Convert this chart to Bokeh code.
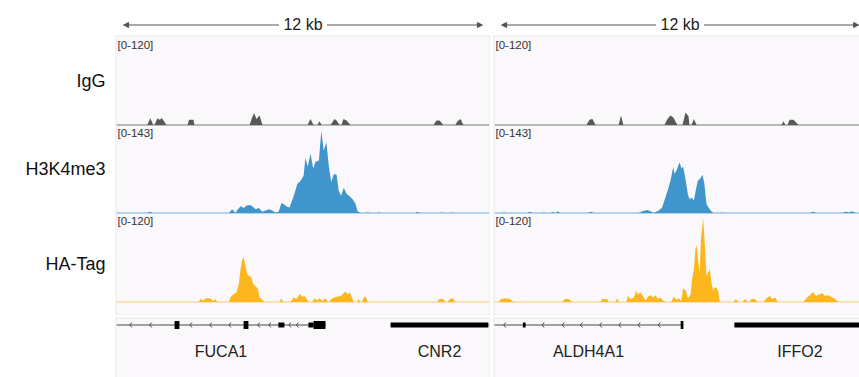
from bokeh.plotting import figure
from bokeh.layouts import row, column
from bokeh.models import Range1d, Spacer, Arrow, NormalHead
from bokeh.embed import file_html
from bokeh.resources import INLINE
from bokeh.core.properties import value

FONT = "Liberation Sans"

# ---------------- data (positions in kb from the left edge of each view) ----------------
track_names = ["IgG", "H3K4me3", "HA-Tag"]
track_max = [120, 143, 120]
range_labels = ["[0-120]", "[0-143]", "[0-120]"]
scale_label = "12 kb"
scale_start = [0.27, 0.27]
scale_end = [12.23, 12.17]

# IgG, left view
igg_L_kb = [1.06, 1.16, 1.26, 1.30, 1.40, 1.47, 1.55, 1.70, 2.40, 2.45, 2.60, 2.63,
            4.47, 4.55, 4.62, 4.70, 4.80, 4.90, 6.40, 6.50, 6.60, 6.73, 6.80, 6.87,
            7.17, 7.30, 7.37, 7.47, 7.53, 7.60, 7.70, 7.83, 10.60, 10.70, 10.80, 10.93,
            11.33, 11.40, 11.50, 11.60]
igg_L_val = [0, 9, 0, 0, 9, 7, 9, 0, 0, 7, 7, 0,
             0, 10, 16, 8, 13, 0, 0, 8, 0, 0, 5, 0,
             0, 8, 6, 0, 0, 8, 6, 0, 0, 6, 6, 0,
             0, 5, 8, 0]
# IgG, right view
igg_R_kb = [3.10, 3.20, 3.30, 3.40, 4.17, 4.25, 4.33, 5.70, 5.80, 5.90, 6.00, 6.13,
            6.30, 6.40, 6.50, 6.53, 6.60, 6.68, 6.77, 9.60, 9.67, 9.73, 9.80, 9.87, 10.00, 10.17]
igg_R_val = [0, 7, 8, 0, 0, 13, 0, 0, 8, 13, 10, 0,
             0, 17, 12, 0, 0, 8, 0, 0, 5, 0, 0, 7, 7, 0]

# H3K4me3, left view
h3_L_kb = [1.05, 1.15, 1.25,
           3.78, 3.89, 4.00, 4.06, 4.17, 4.28, 4.37, 4.48, 4.56, 4.67,
           4.78, 4.89, 5.00, 5.11, 5.22, 5.33, 5.44, 5.53, 5.61, 5.72,
           5.80, 5.83, 5.93, 6.06, 6.17, 6.27, 6.33, 6.41, 6.50, 6.59,
           6.67, 6.78, 6.86, 6.94, 7.03, 7.11, 7.19, 7.28, 7.37, 7.44,
           7.52, 7.61, 7.70, 7.78, 7.89, 8.00, 8.07, 8.17,
           8.30, 8.40, 8.50, 8.70, 8.78, 8.85, 10.00, 10.07, 10.13,
           10.80, 10.87, 10.93, 11.13, 11.20, 11.27]
h3_L_val = [0, 2, 0,
            0, 6, 0, 5, 11, 8, 12, 13, 11, 6,
            8, 2, 4, 6, 4, 1, 2, 16, 14, 10,
            9, 13, 26, 47, 52, 60, 89, 75, 96, 72,
            83, 85, 133, 101, 114, 76, 50, 63, 62, 36,
            28, 41, 31, 28, 23, 15, 3, 0,
            0, 1, 0, 0, 1, 0, 0, 2, 0,
            0, 1, 0, 0, 1, 0]
# H3K4me3, right view
h3_R_kb = [0.28, 0.36, 0.44, 1.12, 1.20, 1.30, 1.62, 1.68, 1.74, 1.92, 1.98, 2.04,
           2.08, 2.14, 2.22, 3.15, 3.25, 3.35,
           4.84, 4.96, 5.12, 5.23, 5.34, 5.51, 5.62, 5.73, 5.81, 5.90,
           5.99, 6.04, 6.12, 6.20, 6.27, 6.32, 6.40, 6.48, 6.54, 6.60,
           6.68, 6.74, 6.81, 6.90, 6.97, 7.03, 7.10, 7.18, 7.26, 7.34,
           7.55, 7.62, 7.70, 10.55, 10.65, 10.75, 11.62, 11.75, 11.85, 11.95, 12.07]
h3_R_val = [0, 1, 0, 0, 2, 0, 0, 1, 0, 0, 2, 0,
            0, 3, 0, 0, 2, 0,
            0, 3, 5, 3, 0, 4, 9, 25, 37, 52,
            74, 63, 71, 82, 72, 75, 55, 30, 22, 25,
            20, 36, 52, 56, 62, 47, 14, 8, 3, 0,
            0, 1, 0, 0, 2, 0, 0, 2, 1, 3, 0]

# HA-Tag, left view
ha_L_kb = [2.78, 2.83, 2.94, 3.00, 3.11, 3.19, 3.26, 3.33, 3.39,
           3.78, 3.83, 3.92, 4.03, 4.11, 4.17, 4.22, 4.28, 4.33, 4.39,
           4.44, 4.52, 4.59, 4.67, 4.74, 4.81, 4.89, 4.97,
           5.48, 5.52, 5.59,
           5.83, 5.94, 6.03, 6.14, 6.22, 6.30, 6.39, 6.44,
           6.56, 6.63, 6.72, 6.81, 6.89, 7.00, 7.08,
           7.12, 7.19, 7.28, 7.39, 7.50, 7.59, 7.67, 7.74, 7.81, 7.89, 7.94,
           8.06, 8.11, 8.17, 8.22, 8.26, 8.33, 8.41,
           10.72, 10.80, 10.92, 11.00, 11.07, 11.15, 11.25, 11.33]
ha_L_val = [0, 4, 2, 5, 5, 4, 1, 4, 0,
            0, 6, 10, 13, 24, 45, 56, 60, 48, 38,
            35, 34, 24, 21, 18, 6, 3, 0,
            0, 5, 0,
            0, 6, 4, 11, 7, 8, 3, 0,
            0, 5, 2, 5, 1, 5, 0,
            0, 4, 6, 7, 8, 11, 14, 10, 13, 5, 0,
            0, 4, 0, 0, 5, 8, 0,
            0, 4, 4, 0, 0, 4, 5, 0]
# HA-Tag, right view
ha_R_kb = [0.17, 0.25, 0.40, 0.55, 0.67, 2.29, 2.38, 2.50, 2.62,
           3.57, 3.62, 3.79, 3.84, 4.07, 4.12, 4.18,
           4.43, 4.48, 4.57, 4.68, 4.76, 4.81, 4.90, 4.98, 5.07, 5.14,
           5.23, 5.32, 5.40, 5.48, 5.57, 5.64, 5.73,
           5.92, 6.01, 6.10, 6.18, 6.26, 6.32, 6.40, 6.48, 6.57, 6.62,
           6.68, 6.73, 6.77, 6.81, 6.87, 6.92, 6.99, 7.04, 7.10, 7.16,
           7.21, 7.27, 7.32, 7.38, 7.43, 7.49, 7.54,
           8.00, 8.08, 8.17, 8.30, 8.38, 8.47, 8.53, 8.60, 8.70, 8.80,
           9.00, 9.10, 9.20, 9.30, 9.40, 9.47,
           10.33, 10.45, 10.55, 10.65, 10.75, 10.85, 10.95, 11.05, 11.15, 11.25, 11.35, 11.50]
ha_R_val = [0, 4, 5, 4, 0, 0, 4, 4, 0,
            0, 4, 4, 0, 0, 5, 0,
            0, 8, 4, 6, 15, 10, 13, 8, 2, 7,
            9, 6, 9, 4, 6, 2, 0,
            0, 7, 3, 5, 1, 18, 16, 5, 10, 31,
            44, 71, 76, 60, 40, 87, 112, 80, 35, 40,
            44, 25, 15, 20, 19, 15, 0,
            0, 4, 0, 0, 4, 0, 0, 4, 4, 0,
            0, 5, 8, 4, 6, 0,
            0, 6, 9, 13, 8, 10, 12, 8, 9, 7, 5, 0]

# Genes
genes_L_name = ["FUCA1", "CNR2"]
genes_L_start = [0.03, 9.17]
genes_L_end = [7.00, 12.43]
exons_L_start = [1.97, 4.27, 5.43, 6.43, 6.60, 9.17]
exons_L_end = [2.13, 4.43, 5.63, 6.60, 7.00, 12.43]
exons_L_thick = [1, 1, 0, 0, 1, 0]
chevrons_L = [0.48, 1.14, 2.48, 3.14, 3.78, 4.74, 5.11, 5.78, 6.03]

genes_R_name = ["ALDH4A1", "IFFO2"]
genes_R_start = [0.0, 8.03]
genes_R_end = [6.30, 12.40]
exons_R_start = [0.98, 6.24, 8.03]
exons_R_end = [1.07, 6.33, 12.40]
exons_R_thick = [0, 1, 0]
chevrons_R = [0.34, 1.62, 2.29, 2.90, 3.54, 4.18, 4.82, 5.49]

# ---------------- layout / style ----------------
PX_PER_KB = 30.0
W_LABEL = 115
PANEL_W = [375, 366]
PANEL_BR = [1, 0]
H_HEAD, H_TRACK, GAP_V, H_GENE = 35, 280, 2, 60
FH = H_TRACK - 2
BANDS = [(0, 88.5), (88, 176.5), (176, 265.5)]
LABEL_BANDS = [(0, 88), (88, 176), (176, 278)]
COLORS = ["#545a54", "#4096cc", "#fdb71e"]
BASE_COLORS = ["#7a7a7a", "#6eb0dc", "#fcc97c"]
BG = "#faf8fa"
BORDER = "#d4d4d4"
ARROW_C = "#555555"
GENE_LINE = "#4a4a4a"


def base_fig(w, h, xr, yr, bl, br, bt, bb, bg, bfill):
    p = figure(width=w, height=h, x_range=xr, y_range=yr,
               min_border_left=bl, min_border_right=br,
               min_border_top=bt, min_border_bottom=bb,
               toolbar_location=None, output_backend="svg",
               x_axis_location=None, y_axis_location=None,
               background_fill_color=bg, border_fill_color=bfill,
               outline_line_color=None)
    p.grid.grid_line_color = None
    return p


def make_panel(i, tracks, genes_name, genes_start, genes_end,
               ex_start, ex_end, ex_thick, chevrons):
    w, br = PANEL_W[i], PANEL_BR[i]
    fw = w - 1 - br
    x0 = 1.0 / PX_PER_KB
    x1 = x0 + fw / PX_PER_KB

    # header with scale arrow
    hd = base_fig(w, H_HEAD, Range1d(x0, x1), Range1d(H_HEAD, 0), 1, br, 0, 0, "white", "white")
    a0, a1 = scale_start[i], scale_end[i]
    mid = (a0 + a1) / 2
    gap = 0.8
    ay = 24.5
    for xs, xe in [(mid - gap, a0), (mid + gap, a1)]:
        hd.add_layout(Arrow(end=NormalHead(size=5, fill_color=ARROW_C, line_color=ARROW_C, line_width=1),
                            x_start=xs, y_start=ay, x_end=xe, y_end=ay,
                            line_color=ARROW_C, line_width=1))
    hd.text(x=[mid], y=[24], text=[scale_label], text_align="center", text_baseline="middle",
            text_font=value(FONT), text_font_size="16px", text_color="#222222")

    # signal tracks
    tf = base_fig(w, H_TRACK, Range1d(x0, x1), Range1d(FH, 0), 1, br, 1, 1, BG, BORDER)
    ranges = {}
    for k in range(3):
        t, b = BANDS[k]
        M = track_max[k]
        ranges["t%d" % k] = Range1d(M * (b - FH) / (b - t), M * b / (b - t))
    tf.extra_y_ranges = ranges
    for k, (kb, val) in enumerate(tracks):
        name = "t%d" % k
        tf.line(x=[x0, x1], y=[0, 0], line_color=BASE_COLORS[k], line_width=1, y_range_name=name)
        tf.varea(x=kb, y1=[0] * len(kb), y2=val, fill_color=COLORS[k], y_range_name=name)
        tf.text(x=[x0], y=[BANDS[k][0] + 2], text=[range_labels[k]], x_offset=1,
                text_align="left", text_baseline="top", text_font=value(FONT),
                text_font_size="11.5px", text_color="#333333")

    # gene track
    gf = base_fig(w, H_GENE, Range1d(x0, x1), Range1d(H_GENE - 1, 0), 1, br, 1, 0, BG, BORDER)
    gy = 6.5
    gf.segment(x0=genes_start, y0=[gy] * len(genes_start), x1=genes_end, y1=[gy] * len(genes_end),
               line_color=GENE_LINE, line_width=1)
    d = 2.0 / PX_PER_KB
    gf.segment(x0=[c + d for c in chevrons], y0=[gy - 2.5] * len(chevrons),
               x1=chevrons, y1=[gy] * len(chevrons), line_color=GENE_LINE, line_width=1)
    gf.segment(x0=chevrons, y0=[gy] * len(chevrons),
               x1=[c + d for c in chevrons], y1=[gy + 2.5] * len(chevrons),
               line_color=GENE_LINE, line_width=1)
    hs = [8 if th else 5 for th in ex_thick]
    gf.quad(left=ex_start, right=ex_end, top=[gy - h / 2 for h in hs], bottom=[gy + h / 2 for h in hs],
            fill_color="#000000", line_color=None)
    mids = [(max(s, x0) + min(e, x0 + 12.5)) / 2 for s, e in zip(genes_start, genes_end)]
    gf.text(x=mids, y=[33] * len(mids), text=genes_name, text_align="center", text_baseline="middle",
            text_font=value(FONT), text_font_size="16px", text_color="#222222")

    return column(hd, tf, Spacer(width=w, height=GAP_V), gf, spacing=0)


left = make_panel(0, [(igg_L_kb, igg_L_val), (h3_L_kb, h3_L_val), (ha_L_kb, ha_L_val)],
                  genes_L_name, genes_L_start, genes_L_end,
                  exons_L_start, exons_L_end, exons_L_thick, chevrons_L)
right = make_panel(1, [(igg_R_kb, igg_R_val), (h3_R_kb, h3_R_val), (ha_R_kb, ha_R_val)],
                   genes_R_name, genes_R_start, genes_R_end,
                   exons_R_start, exons_R_end, exons_R_thick, chevrons_R)

TOTAL_H = H_HEAD + H_TRACK + GAP_V + H_GENE
lf = base_fig(W_LABEL, TOTAL_H, Range1d(0, W_LABEL), Range1d(TOTAL_H, 0), 0, 0, 0, 0, "white", "white")
label_y = [H_HEAD + 1 + (t + b) / 2 for t, b in LABEL_BANDS]
lf.text(x=[105] * 3, y=label_y, text=track_names, text_align="right", text_baseline="middle",
        text_font=value(FONT), text_font_size="18px", text_color="#111111")

layout = row(lf, left, Spacer(width=3, height=TOTAL_H), right, spacing=0)

open("out.html", "w").write(file_html(layout, INLINE))
